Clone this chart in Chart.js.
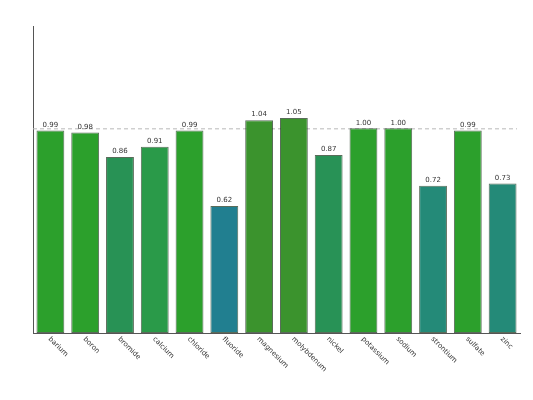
<!DOCTYPE html>
<html>
<head>
<meta charset="utf-8">
<script src="https://cdn.jsdelivr.net/npm/chart.js@4"></script>
<style>
  body { margin: 0; background: #fff; }
</style>
</head>
<body>
<canvas id="ratioChart" width="533" height="400"></canvas>
<script>
const elements = ["barium","boron","bromide","calcium","chloride","fluoride","magnesium","molybdenum","nickel","potassium","sodium","strontium","sulfate","zinc"];
const ratios = [0.99,0.98,0.86,0.91,0.99,0.62,1.04,1.05,0.87,1.00,1.00,0.72,0.99,0.73];
const barColors = ["#2ca02c","#2ca02c","#289255","#2a9a49","#2ca02c","#217f90","#3b932d","#3b932d","#289256","#2ca02c","#2ca02c","#248a78","#2ca02c","#248a78"];
const refLine = 1.0;

// dashed reference line + value labels + rotated category labels
const decor = {
  id: 'decor',
  beforeDatasetsDraw(chart) {
    const {ctx, chartArea, scales} = chart;
    const y = scales.y.getPixelForValue(refLine);
    ctx.save();
    ctx.strokeStyle = '#b8b8b8';
    ctx.lineWidth = 1;
    ctx.setLineDash([4, 3]);
    ctx.beginPath();
    ctx.moveTo(chartArea.left, y + 0.5);
    ctx.lineTo(chartArea.right - 3, y + 0.5);
    ctx.stroke();
    ctx.restore();
  },
  afterDatasetsDraw(chart) {
    const {ctx, chartArea, scales} = chart;
    const meta = chart.getDatasetMeta(0);
    ctx.save();
    ctx.font = '7px "DejaVu Sans"';
    ctx.fillStyle = '#333';
    ctx.textAlign = 'center';
    ctx.textBaseline = 'bottom';
    meta.data.forEach((bar, i) => {
      ctx.fillText(ratios[i].toFixed(2), bar.x, bar.y - 2);
    });
    elements.forEach((name, i) => {
      const x = scales.x.getPixelForTick(i);
      ctx.save();
      ctx.translate(x - 1, chartArea.bottom + 5);
      ctx.rotate(Math.PI / 4);
      ctx.textAlign = 'left';
      ctx.textBaseline = 'middle';
      ctx.fillText(name, 0, 0);
      ctx.restore();
    });
    ctx.restore();
  }
};

new Chart(document.getElementById('ratioChart'), {
  type: 'bar',
  data: {
    labels: elements,
    datasets: [{
      data: ratios,
      backgroundColor: barColors,
      borderColor: 'rgba(20,45,20,0.7)',
      borderWidth: 1,
      borderSkipped: false,
      barPercentage: 0.8,
      categoryPercentage: 1.0
    }]
  },
  options: {
    responsive: false,
    animation: false,
    devicePixelRatio: 1,
    layout: { padding: { left: 33, top: 26, right: 13, bottom: 67 } },
    plugins: { legend: { display: false }, tooltip: { enabled: false } },
    scales: {
      x: {
        grid: { display: false, drawTicks: false },
        ticks: { display: false },
        border: { display: true, color: '#555', width: 1 }
      },
      y: {
        min: 0,
        max: 1.5,
        grid: { display: false, drawTicks: false },
        ticks: { display: false },
        border: { display: true, color: '#555', width: 1 }
      }
    }
  },
  plugins: [decor]
});
</script>
</body>
</html>
